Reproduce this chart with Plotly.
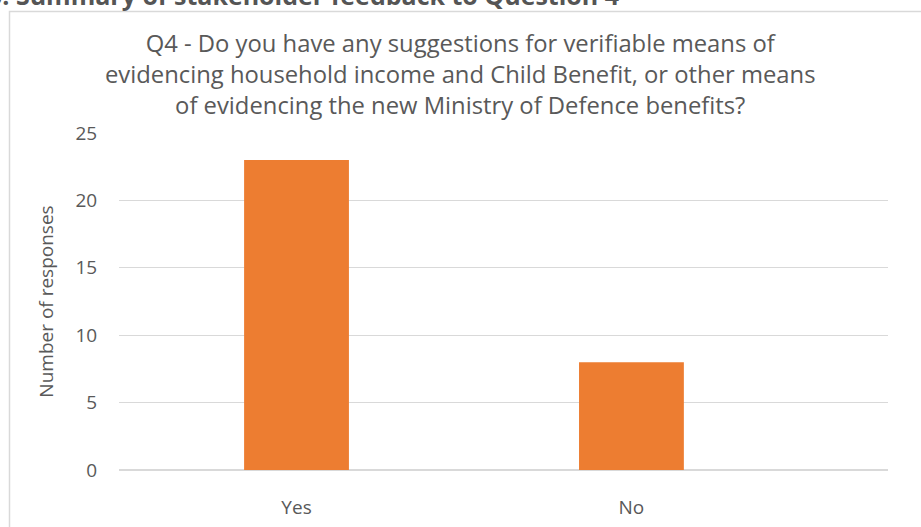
import plotly.graph_objects as go

categories = ["Yes", "No"]
responses = [23, 8]
y_ticks = [0, 5, 10, 15, 20, 25]

title_lines = [
    "Q4 - Do you have any suggestions for verifiable means of",
    "evidencing household income and Child Benefit, or other means",
    "of evidencing the new Ministry of Defence benefits?",
]
header_text = "5. Summary of stakeholder feedback to Question 4"

W, H = 921, 527
L, R, T, B = 119, 33, 133, 57
pw = W - L - R
ph = H - T - B

def px_x(px):
    return (px - L) / pw

def px_y(py):
    return (H - B - py) / ph

TEXT = "#595959"
FONT = "Open Sans, Noto Sans, sans-serif"

fig = go.Figure(
    go.Bar(
        x=categories,
        y=responses,
        marker=dict(color="#ED7D31", line=dict(width=0)),
        width=0.313,
    )
)

fig.update_layout(
    width=W,
    height=H,
    margin=dict(l=L, r=R, t=T, b=B, autoexpand=False),
    paper_bgcolor="white",
    plot_bgcolor="white",
    showlegend=False,
    font=dict(family=FONT, color=TEXT),
    xaxis=dict(
        range=[-0.530, 1.766],
        automargin=False,
        showgrid=False,
        showline=False,
        zeroline=False,
        ticks="outside",
        ticklen=20,
        tickcolor="rgba(0,0,0,0)",
        tickfont=dict(size=19, color=TEXT, family=FONT),
    ),
    yaxis=dict(
        range=[0, 25],
        automargin=False,
        tickvals=y_ticks,
        showgrid=True,
        gridcolor="#D9D9D9",
        gridwidth=1.3,
        zeroline=True,
        zerolinecolor="#D9D9D9",
        zerolinewidth=2,
        showline=False,
        ticks="outside",
        ticklen=17,
        tickcolor="rgba(0,0,0,0)",
        tickfont=dict(size=19, color=TEXT, family=FONT),
        title=dict(text="Number of responses", font=dict(size=19, color=TEXT, family=FONT), standoff=16),
    ),
    shapes=[
        dict(
            type="rect",
            xref="paper",
            yref="paper",
            x0=px_x(9.5),
            x1=px_x(940),
            y0=px_y(560),
            y1=px_y(11.5),
            line=dict(color="#D9D9D9", width=1.5),
            fillcolor="rgba(0,0,0,0)",
            layer="below",
        )
    ],
    annotations=[
        dict(
            text="<br>".join(title_lines),
            xref="paper",
            yref="paper",
            x=px_x(460),
            y=px_y(74),
            xanchor="center",
            yanchor="middle",
            showarrow=False,
            align="center",
            font=dict(size=23.8, color=TEXT, family=FONT),
        ),
        dict(
            text="<b>" + header_text + "</b>",
            xref="paper",
            yref="paper",
            x=px_x(621),
            y=px_y(14),
            xanchor="right",
            yanchor="bottom",
            showarrow=False,
            font=dict(size=25, color="#555555", family=FONT),
        ),
    ],
)

fig.write_html(
    "out.html",
    config={"displayModeBar": False},
    post_script="document.body.style.margin='0';document.body.style.overflow='hidden';",
)
